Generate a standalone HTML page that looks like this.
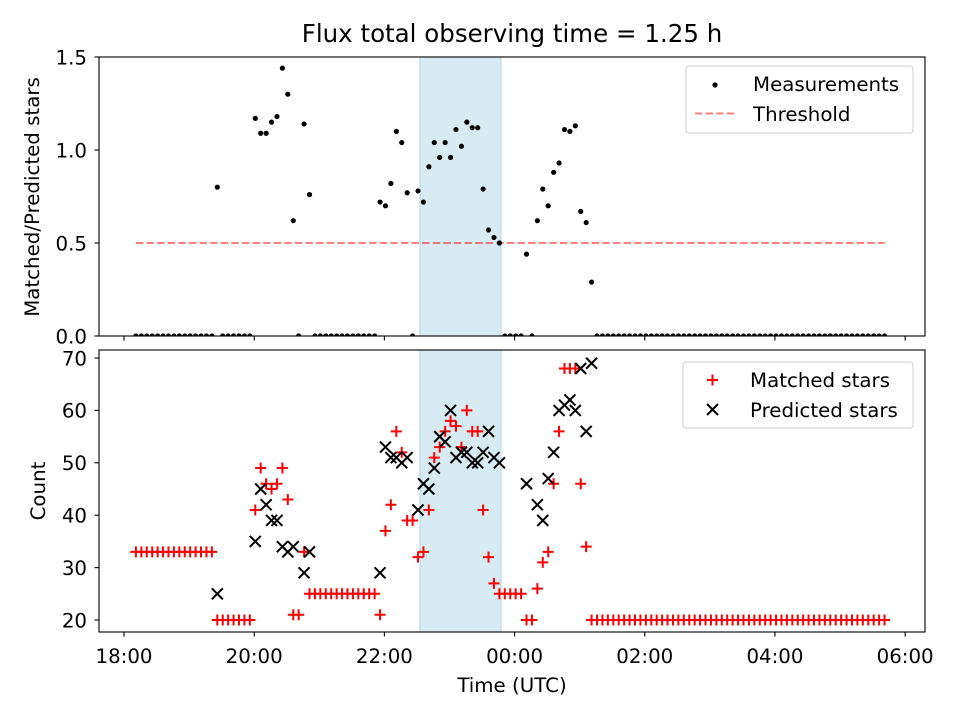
<!DOCTYPE html>
<html><head><meta charset="utf-8"><style>
html,body{margin:0;padding:0;background:#fff;}
svg{display:block;font-family:"DejaVu Sans","Liberation Sans",sans-serif;}
</style></head><body>
<svg id="chart" width="960" height="720" viewBox="0 0 960 720" xmlns="http://www.w3.org/2000/svg">
<defs>
<clipPath id="clipTop"><rect x="99" y="57" width="826" height="279"/></clipPath>
<clipPath id="clipBot"><rect x="99" y="350" width="826" height="282"/></clipPath>
</defs>
<rect width="960" height="720" fill="#fff"/>
<text x="512" y="42" font-size="24.5" text-anchor="middle">Flux total observing time = 1.25 h</text>
<g id="top"></g>
<g id="bot"></g>
</svg>
<script>
// minutes since 18:00 for first sample, 5-minute cadence
const startMinute = 11;
const sampleCount = 139;
const spanStart = 272.8, spanEnd = 347.5;
const thresholdValue = 0.5;
const thresholdStart = 11, thresholdEnd = 701;
const ratioValues = [0,0,0,0,0,0,0,0,0,0,0,0,0,0,0,
 0.80,0,0,0,0,0,0,
 1.17,1.09,1.09,1.15,1.18,1.44,1.30,0.62,0,1.14,0.76,
 0,0,0,0,0,0,0,0,0,0,0,0,
 0.72,0.70,0.82,1.10,1.04,0.77,0,0.78,0.72,0.91,1.04,0.96,1.04,0.96,1.11,1.02,1.15,1.12,1.12,0.79,0.57,0.53,0.50,
 0,0,0,0,0.44,0,
 0.62,0.79,0.70,0.88,0.93,1.11,1.10,1.13,0.67,0.61,0.29,
 0,0,0,0,0,0,0,0,0,0,0,0,0,0,0,0,0,0,0,0,0,0,0,0,0,0,0,0,0,0,0,0,0,0,0,0,0,0,0,0,0,0,0,0,0,0,0,0,0,0,0,0,0,0];
const matchedValues = [33,33,33,33,33,33,33,33,33,33,33,33,33,33,33,
 20,20,20,20,20,20,20,
 41,49,46,45,46,49,43,21,21,33,25,
 25,25,25,25,25,25,25,25,25,25,25,25,
 21,37,42,56,52,39,39,32,33,41,51,53,56,58,57,53,60,56,56,41,32,27,25,
 25,25,25,25,20,20,
 26,31,33,46,56,68,68,68,46,34,20,
 20,20,20,20,20,20,20,20,20,20,20,20,20,20,20,20,20,20,20,20,20,20,20,20,20,20,20,20,20,20,20,20,20,20,20,20,20,20,20,20,20,20,20,20,20,20,20,20,20,20,20,20,20,20];
const predictedValues = [0,0,0,0,0,0,0,0,0,0,0,0,0,0,0,
 25,0,0,0,0,0,0,
 35,45,42,39,39,34,33,34,0,29,33,
 0,0,0,0,0,0,0,0,0,0,0,0,
 29,53,51,51,50,51,0,41,46,45,49,55,54,60,51,52,52,50,50,52,56,51,50,
 0,0,0,0,46,0,
 42,39,47,52,60,61,62,60,68,56,69,
 0,0,0,0,0,0,0,0,0,0,0,0,0,0,0,0,0,0,0,0,0,0,0,0,0,0,0,0,0,0,0,0,0,0,0,0,0,0,0,0,0,0,0,0,0,0,0,0,0,0,0,0,0,0];
const xTickLabels = ["18:00","20:00","22:00","00:00","02:00","04:00","06:00"];
const xTickMinutes = [0,120,240,360,480,600,720];
const topYTicks = [0.0,0.5,1.0,1.5];
const botYTicks = [20,30,40,50,60,70];

const times = [];
for (let i = 0; i < sampleCount; i++) times.push(startMinute + 5 * i);

const FS = 19.8;
const NS = "http://www.w3.org/2000/svg";
const X0 = 99, X1 = 925, XMIN = -23.04, XMAX = 738.3;
const xs = m => X0 + (m - XMIN) / (XMAX - XMIN) * (X1 - X0);
const T = {top: 57, bot: 336, min: 0, max: 1.5};
const B = {top: 350, bot: 632, min: 17.71, max: 71.53};
const ys = (ax, v) => ax.bot - (v - ax.min) / (ax.max - ax.min) * (ax.bot - ax.top);
function mk(tag, attrs, parent) {
  const e = document.createElementNS(NS, tag);
  for (const k in attrs) e.setAttribute(k, attrs[k]);
  parent.appendChild(e);
  return e;
}
const gTop = document.getElementById('top'), gBot = document.getElementById('bot');

function axesFrame(g, ax, ticks, fmt, name) {
  const sp = mk('rect', {x: xs(spanStart), y: ax.top, width: xs(spanEnd) - xs(spanStart), height: ax.bot - ax.top, fill: '#add8e6', 'fill-opacity': 0.5, stroke: '#add8e6', 'stroke-width': 1}, g);
  
  
  ticks.forEach(v => {
    const y = ys(ax, v);
    const t = mk('line', {x1: X0 - 4.5, x2: X0, y1: y, y2: y, stroke: '#000', 'stroke-width': 1.1}, g);
    
    
    const l = mk('text', {x: X0 - 12, y: y + 7.3, 'font-size': FS, 'text-anchor': 'end'}, g);
    l.textContent = fmt(v);
    
    
  });
  xTickMinutes.forEach(m => {
    const t = mk('line', {x1: xs(m), x2: xs(m), y1: ax.bot, y2: ax.bot + 4.5, stroke: '#000', 'stroke-width': 1.1}, g);
    
    
  });
}
axesFrame(gTop, T, topYTicks, v => v.toFixed(1), 'top');
axesFrame(gBot, B, botYTicks, v => String(v), 'bottom');

const th = mk('line', {x1: xs(thresholdStart), x2: xs(thresholdEnd), y1: ys(T, thresholdValue), y2: ys(T, thresholdValue), stroke: '#ff0000', 'stroke-opacity': 0.5, 'stroke-width': 2, 'stroke-dasharray': '7.4,3.2'}, gTop);



const mTop = mk('g', {'clip-path': 'url(#clipTop)'}, gTop);
times.forEach((t, i) => {
  const c = mk('circle', {cx: xs(t), cy: ys(T, ratioValues[i]), r: 2.6, fill: '#000'}, mTop);
  
  
});

const mBot = mk('g', {'clip-path': 'url(#clipBot)'}, gBot);
times.forEach((t, i) => {
  const x = xs(t), y = ys(B, matchedValues[i]);
  const p = mk('path', {d: `M${x-5.5},${y}H${x+5.5}M${x},${y-5.5}V${y+5.5}`, stroke: '#ff0000', 'stroke-width': 2, fill: 'none'}, mBot);
  
  
});
times.forEach((t, i) => {
  const x = xs(t), y = ys(B, predictedValues[i]);
  const p = mk('path', {d: `M${x-5.5},${y-5.5}L${x+5.5},${y+5.5}M${x-5.5},${y+5.5}L${x+5.5},${y-5.5}`, stroke: '#000', 'stroke-width': 2, fill: 'none'}, mBot);
  
  
});

[[gTop, T, 'top-axes-frame'], [gBot, B, 'bottom-axes-frame']].forEach(([g, ax, n]) => {
  const r = mk('rect', {x: X0, y: ax.top, width: X1 - X0, height: ax.bot - ax.top, fill: 'none', stroke: '#000', 'stroke-width': 1.1}, g);
  
  
});

xTickMinutes.forEach((m, i) => {
  const l = mk('text', {x: xs(m), y: 663, 'font-size': FS, 'text-anchor': 'middle'}, gBot);
  l.textContent = xTickLabels[i];
  
  
});

let at = mk('text', {x: 512, y: 692, 'font-size': FS, 'text-anchor': 'middle'}, gBot);
at.textContent = 'Time (UTC)';


at = mk('text', {x: 0, y: 0, 'font-size': FS, 'text-anchor': 'middle', transform: 'translate(39,197) rotate(-90)'}, gTop);
at.textContent = 'Matched/Predicted stars';


at = mk('text', {x: 0, y: 0, 'font-size': FS, 'text-anchor': 'middle', transform: 'translate(45,491) rotate(-90)'}, gBot);
at.textContent = 'Count';



function legendBox(g, x, y, w, h, name) {
  const r = mk('rect', {x, y, width: w, height: h, rx: 3, fill: '#fff', 'fill-opacity': 0.8, stroke: '#ccc', 'stroke-width': 1}, g);
  
  
}
legendBox(gTop, 686, 66, 227, 67, 'top-legend');
let e = mk('circle', {cx: 715, cy: 85, r: 2.6, fill: '#000'}, gTop);


e = mk('text', {x: 753, y: 91, 'font-size': FS}, gTop);
e.textContent = 'Measurements';


e = mk('line', {x1: 695, x2: 737, y1: 113.5, y2: 113.5, stroke: '#ff0000', 'stroke-opacity': 0.5, 'stroke-width': 2, 'stroke-dasharray': '7.4,3.2'}, gTop);


e = mk('text', {x: 753, y: 121, 'font-size': FS}, gTop);
e.textContent = 'Threshold';



legendBox(gBot, 683, 362, 230, 66, 'bottom-legend');
e = mk('path', {d: 'M707,380H718M712.5,374.5V385.5', stroke: '#ff0000', 'stroke-width': 2, fill: 'none'}, gBot);


e = mk('text', {x: 750, y: 387, 'font-size': FS}, gBot);
e.textContent = 'Matched stars';


e = mk('path', {d: 'M707,404L718,415M707,415L718,404', stroke: '#000', 'stroke-width': 2, fill: 'none'}, gBot);


e = mk('text', {x: 750, y: 417, 'font-size': FS}, gBot);
e.textContent = 'Predicted stars';


</script>
</body></html>
